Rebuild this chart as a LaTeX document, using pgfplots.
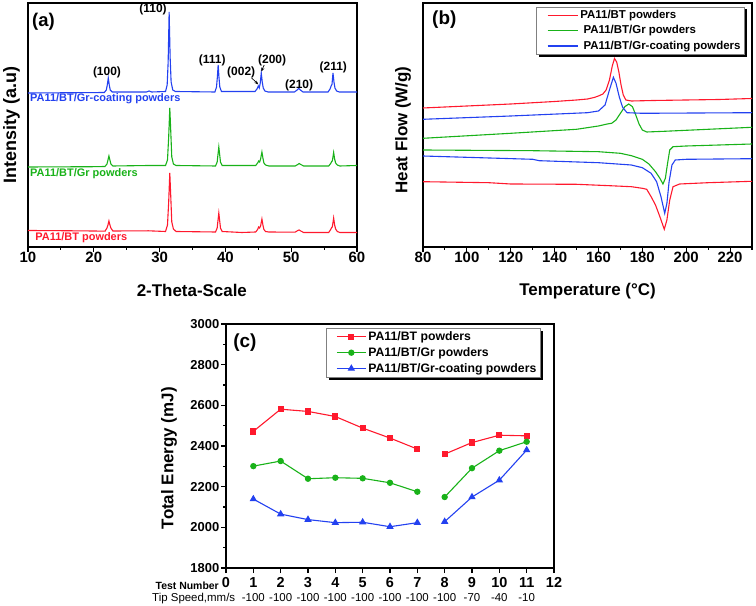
\documentclass[border=0pt]{standalone}
\usepackage{pgfplots}
\pgfplotsset{compat=1.18}
\usepackage{fontspec}
\setmainfont{Liberation Sans}
\usetikzlibrary{shadows,arrows.meta}
\definecolor{cred}{RGB}{255,25,45}
\definecolor{cgreen}{RGB}{25,178,25}
\definecolor{cblue}{RGB}{35,65,240}
\newcommand{\fs}[1]{\fontsize{#1}{#1}\selectfont}
\makeatletter
\tikzset{no preactions/.code={\let\tikz@preactions\pgfutil@empty}}
\makeatother
\begin{document}
\begin{tikzpicture}
\useasboundingbox (0bp,0bp) rectangle (756bp,606bp);
\pgfplotsset{
  every axis/.append style={
    scale only axis,
    axis line style={line width=1.3bp},
    tick style={line width=1.1bp, black},
    major tick length=5bp, minor tick length=3bp,
    tick align=outside,
    /pgf/number format/assume math mode=true,
    /pgf/number format/1000 sep={},
    tick label style={font=\bfseries\fs{15}},
    label style={font=\bfseries\fs{17}},
  },
}
% ---------------- (a) ----------------
\begin{axis}[
  at={(28bp,359bp)}, anchor=south west,
  width=329bp, height=244bp,
  xmin=10, xmax=60, ymin=0, ymax=244,
  xtick={10,20,...,60}, minor xtick={15,25,...,55},
  xtick pos=bottom, ytick=\empty,
  xticklabel style={inner sep=0bp},
  xlabel={2-Theta-Scale},
  xlabel style={at={(axis description cs:0.498,-0.18)}, anchor=center},
  ylabel={Intensity (a.u)},
  ylabel style={at={(axis description cs:-0.05,0.5)}, anchor=center, font=\bfseries\fs{18}},
  clip=false,
]
\addplot[cblue, line width=1.1bp] coordinates {
(10,154) (15,154.2) (20,154.4) (21.6,154.5) (21.9,157) (22.05,162) (22.2,169) (22.35,162) (22.5,157) (22.8,155) (28,155) (28.4,156) (28.8,155) (30.9,155.5) (31.15,162) (31.3,185) (31.45,235) (31.6,190) (31.75,165) (32.0,157) (32.4,155.5) (38.4,155) (38.65,160) (38.78,170) (38.9,182) (39.02,170) (39.15,160) (39.4,155.5) (44.5,155.5) (44.8,158) (45.0,161) (45.15,159) (45.3,164) (45.45,174) (45.6,165) (45.75,159) (46.0,156) (46.5,155) (50.5,155) (50.9,157) (51.15,158.5) (51.4,157) (51.8,155) (55.6,155) (55.9,158) (56.1,161.5) (56.2,162.5) (56.35,174) (56.5,165) (56.65,159) (56.9,156) (57.3,155) (60,155)};
\addplot[cgreen, line width=1.1bp] coordinates {
(10,80) (20,80.3) (21.7,80.5) (22.0,83) (22.15,87) (22.3,91) (22.45,87) (22.6,83) (22.9,81) (28.4,81.5) (30.9,81.5) (31.2,87) (31.38,110) (31.55,139) (31.7,115) (31.85,90) (32.1,83) (32.5,81.5) (38.5,81) (38.75,85) (38.88,93) (39.0,100) (39.12,93) (39.25,85) (39.5,81.5) (44.6,81.5) (44.9,84) (45.05,86) (45.2,85) (45.35,88) (45.55,95) (45.7,89) (45.85,84) (46.1,82) (46.6,81) (50.6,81) (51.0,82.5) (51.2,83.5) (51.45,82.5) (51.9,81) (55.7,81) (56.0,83.5) (56.15,85.5) (56.25,86) (56.45,94.5) (56.6,88) (56.75,84) (57.0,82) (57.4,81) (60,81.5)};
\addplot[cred, line width=1.1bp] coordinates {
(10,16.5) (15,16.3) (20,16) (21.7,15.8) (22.0,19) (22.15,22) (22.3,26) (22.45,22) (22.6,19) (22.9,16) (28.3,16.2) (30.9,15.5) (31.2,22) (31.38,45) (31.55,74) (31.7,50) (31.85,25) (32.1,18) (32.5,15.5) (38.5,15) (38.75,19) (38.88,27) (39.0,34) (39.12,27) (39.25,19) (39.5,15.5) (42.5,14.5) (44.6,15) (44.9,17.5) (45.05,20) (45.2,19) (45.35,21) (45.55,28) (45.7,22) (45.85,17.5) (46.1,15.5) (46.6,15) (50.6,14.8) (51.0,16.5) (51.2,17) (51.45,16) (51.9,14.5) (55.7,14.5) (56.0,17.5) (56.15,19.5) (56.25,20) (56.45,29) (56.6,22) (56.75,18) (57.0,15.5) (57.4,14.5) (60,14.5)};
\begin{scope}[every node/.style={font=\bfseries\fs{12}, inner sep=0}]
\node at (axis cs:22.0,175) {(100)};
\node at (axis cs:29.0,238) {(110)};
\node at (axis cs:38.0,187) {(111)};
\node at (axis cs:42.4,175) {(002)};
\node at (axis cs:47.1,187) {(200)};
\node at (axis cs:51.2,162) {(210)};
\node at (axis cs:56.4,180) {(211)};
\end{scope}
\draw[-{Stealth[length=4bp,width=3bp]}, line width=0.7bp] (axis cs:44.0,169) -- (axis cs:45.0,162.5);
\draw[-{Stealth[length=4bp,width=3bp]}, line width=0.7bp] (axis cs:45.9,182) -- (axis cs:45.45,175.5);
\node[anchor=west, inner sep=0, font=\bfseries\fs{18.5}] at (axis cs:10.6,225) {(a)};
\node[anchor=west, inner sep=0, font=\bfseries\fs{11}, text=cblue] at (axis cs:10.3,148) {PA11/BT/Gr-coating powders};
\node[anchor=west, inner sep=0, font=\bfseries\fs{11}, text=cgreen] at (axis cs:10.3,73) {PA11/BT/Gr powders};
\node[anchor=west, inner sep=0, font=\bfseries\fs{11}, text=cred] at (axis cs:11.1,9) {PA11/BT powders};
\end{axis}
% ---------------- (b) ----------------
\begin{axis}[
  at={(423bp,359bp)}, anchor=south west,
  width=329bp, height=244bp,
  xmin=80, xmax=230, ymin=0, ymax=244,
  xtick={80,100,...,220}, minor xtick={90,110,...,230},
  xtick pos=bottom, ytick=\empty,
  xticklabel style={inner sep=0bp},
  xlabel={Temperature (°C)},
  xlabel style={at={(axis description cs:0.5,-0.18)}, anchor=center},
  ylabel={Heat Flow (W/g)},
  ylabel style={at={(axis description cs:-0.061,0.48)}, anchor=center},
  legend style={at={(0.343,0.985)}, anchor=north west, draw=gray, line width=0.5bp,
    font=\bfseries\fs{11.5}, inner xsep=2bp, inner ysep=1.5bp, row sep=1.5bp,
    drop shadow={fill=black, opacity=1, shadow xshift=2.5bp, shadow yshift=-2.5bp}},
  legend cell align=left,
  legend image code/.code={\path[no preactions] (0bp,0bp); \draw[no preactions, #1, line width=1.4bp] (9bp,0bp) -- (39bp,0bp);},
  clip=false,
]
\addplot[draw=cred, line width=1.1bp] coordinates {
(80,139) (100,141) (120,143) (140,145.5) (150,147) (155,148) (158,149.5) (160,151) (162,153) (163.5,157) (165,167) (166.3,181) (167.3,188.5) (168.3,185) (169.3,175) (170.3,162) (171.3,152) (172.5,147) (175,146) (185,146.5) (200,147) (215,147.5) (230,148.5)};
\addlegendentry{PA11/BT powders}
\addplot[draw=cgreen, line width=1.1bp] coordinates {
(80,108.7) (120,113.7) (150,117.7) (160,121) (164,123) (166,123.7) (168,127) (170,133.7) (172,140.3) (173.8,143) (175.5,140.3) (177,132) (178.5,123) (180,117) (182,115) (190,115.7) (230,119.7)};
\addlegendentry{~PA11/BT/Gr powders}
\addplot[draw=cblue, line width=1.1bp] coordinates {
(80,127.7) (120,131) (155,134.3) (160,136) (163,142) (165,157) (166.8,169.7) (168,163.7) (169.5,150) (171,139.7) (173,134.3) (180,133.7) (230,134.3)};
\addlegendentry{~PA11/BT/Gr-coating powders}
\addplot[cgreen, line width=1.1bp, forget plot] coordinates {
(80,97) (130,96.3) (160,95.3) (170,93.7) (175,91.3) (180,87.7) (183,83) (186,75.3) (188,68.7) (189.4,63) (190.5,68.7) (191.5,83.7) (192.5,97) (194,100.3) (200,101) (230,103)};
\addplot[cblue, line width=1.1bp, forget plot] coordinates {
(80,91) (130,87.7) (133,86.3) (160,84.3) (175,82) (180,79.3) (184,73.7) (186.5,65.3) (188.5,50.3) (190.2,33.7) (191.2,43.7) (192.2,65.3) (193.5,82) (195,87) (200,87.7) (230,88.3)};
\addplot[cred, line width=1.1bp, forget plot] coordinates {
(80,65.3) (110,64.3) (120,63) (150,62.7) (165,61.3) (175,60.3) (180,58.7) (182,57.7) (184,50.3) (186,42) (188,30.3) (190,17.7) (191.2,27) (192.5,47) (194,60.3) (197,63) (210,64.3) (230,65.7)};
\node[anchor=west, inner sep=0, font=\bfseries\fs{19}] at (axis cs:84.1,227) {(b)};
\end{axis}
% ---------------- (c) ----------------
\begin{axis}[
  at={(226bp,38bp)}, anchor=south west,
  width=328bp, height=244bp,
  xmin=0, xmax=12, ymin=1800, ymax=3000,
  xtick={0,1,...,12}, ytick={1800,2000,...,3000}, minor ytick={1900,2100,...,2900},
  tick pos=left,
  xticklabel style={font=\bfseries\fs{14.5}, inner sep=0bp, yshift=-4bp},
  yticklabel style={font=\bfseries\fs{13}, inner sep=1.5bp},
  ylabel={Total Energy (mJ)},
  ylabel style={at={(axis description cs:-0.174,0.45)}, anchor=center},
  legend style={at={(0.305,0.984)}, anchor=north west, draw=gray, line width=0.5bp,
    font=\bfseries\fs{12.3}, inner xsep=2bp, inner ysep=1.5bp, row sep=1.5bp,
    drop shadow={fill=black, opacity=1, shadow xshift=2.5bp, shadow yshift=-2.5bp}},
  legend cell align=left,
  legend image code/.code={\path[no preactions] (0bp,0bp); \draw[no preactions, #1] (8bp,0bp) -- (37bp,0bp); \draw[no preactions, #1, mark repeat=1] plot coordinates {(22.5bp,0bp)};},
  clip=false,
]
\addplot[cred, line width=1.1bp, mark=square*, mark size=2.6bp] coordinates {
(1,2472) (2,2581) (3,2570) (4,2545) (5,2488) (6,2439) (7,2385)};
\addlegendentry{PA11/BT powders}
\addplot[cgreen, line width=1.1bp, mark=*, mark size=2.6bp] coordinates {
(1,2301) (2,2326) (3,2239) (4,2244) (5,2241) (6,2219) (7,2175)};
\addlegendentry{PA11/BT/Gr powders}
\addplot[cblue, line width=1.1bp, mark=triangle*, mark size=3.2bp] coordinates {
(1,2139) (2,2065) (3,2038) (4,2023) (5,2025) (6,2003) (7,2023)};
\addlegendentry{PA11/BT/Gr-coating powders}
\addplot[cred, line width=1.1bp, mark=square*, mark size=2.6bp, forget plot] coordinates {
(8,2360) (9,2417) (10,2453) (11,2450)};
\addplot[cgreen, line width=1.1bp, mark=*, mark size=2.6bp, forget plot] coordinates {
(8,2149) (9,2291) (10,2377) (11,2421)};
\addplot[cblue, line width=1.1bp, mark=triangle*, mark size=3.2bp, forget plot] coordinates {
(8,2028) (9,2149) (10,2232) (11,2380)};
\node[anchor=west, inner sep=0, font=\bfseries\fs{19}] at (axis cs:0.26,2907) {(c)};
\node[anchor=base east, inner sep=0, font=\bfseries\fs{10.5}, yshift=-21bp, xshift=-7bp] at (axis cs:0,1800) {Test Number};
\node[anchor=base west, inner sep=0, font=\fs{11.5}, yshift=-33bp, xshift=-74bp] at (axis cs:0,1800) {Tip Speed,mm/s};
\begin{scope}[every node/.style={anchor=base, inner sep=0, font=\fs{11.5}, yshift=-33bp}]
\node at (axis cs:1,1800) {-100};
\node at (axis cs:2,1800) {-100};
\node at (axis cs:3,1800) {-100};
\node at (axis cs:4,1800) {-100};
\node at (axis cs:5,1800) {-100};
\node at (axis cs:6,1800) {-100};
\node at (axis cs:7,1800) {-100};
\node at (axis cs:8,1800) {-100};
\node at (axis cs:9,1800) {-70};
\node at (axis cs:10,1800) {-40};
\node at (axis cs:11,1800) {-10};
\end{scope}
\end{axis}
\end{tikzpicture}
\end{document}
